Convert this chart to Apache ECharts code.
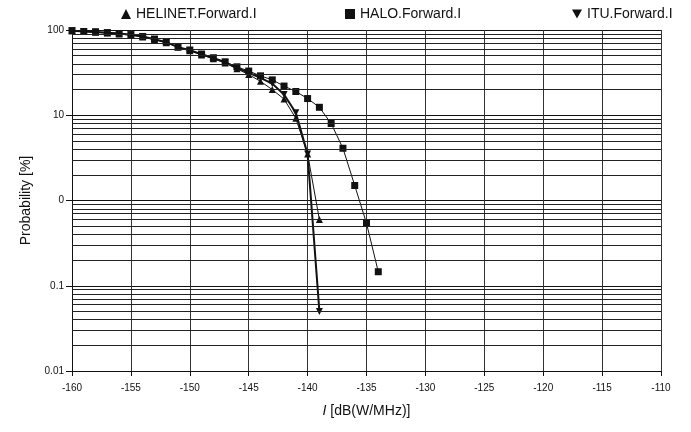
<!DOCTYPE html>
<html>
<head>
<meta charset="utf-8">
<script src="https://cdn.jsdelivr.net/npm/echarts@6/dist/echarts.min.js"></script>
<style>
  html, body { margin: 0; padding: 0; background: #fff; }
  #chart { width: 691px; height: 432px; }
</style>
</head>
<body>
<div id="chart"></div>
<script>
// interference level, dB(W/MHz)
var xHalo = [-160, -159, -158, -157, -156, -155, -154, -153, -152, -151, -150, -149, -148, -147,
             -146, -145, -144, -143, -142, -141, -140, -139, -138, -137, -136, -135, -134];
var xShort = [-160, -159, -158, -157, -156, -155, -154, -153, -152, -151, -150, -149, -148, -147,
              -146, -145, -144, -143, -142, -141, -140, -139];

// probability, %
var haloValues = [98, 96, 95, 93, 91, 88, 84, 78, 72, 63, 58, 52, 47, 42,
                  37, 33, 29, 26, 22, 19, 15.7, 12.4, 8, 4.1, 1.5, 0.54, 0.146];
var helinetValues = [98, 96, 94, 92, 90, 87, 83, 77, 71, 63, 57, 51, 46, 41,
                     35, 30, 25, 20, 15.5, 9.2, 3.5, 0.6];
var ituValues = [98, 96, 95, 93, 91, 88, 84, 78, 72, 63, 58, 52, 47, 42,
                 36, 31.5, 27.5, 23.5, 17.5, 10.7, 3.5, 0.05];

var seriesNames = ['HELINET.Forward.I', 'HALO.Forward.I', 'ITU.Forward.I'];
var yTickValues = [0.01, 0.1, 1, 10, 100];
var yTickLabels = ['0.01', '0.1', '0', '10', '100'];

var font = 'Liberation Sans';
var downTriangle = 'path://M0,0 L10,0 L5,9 Z';

function pairs(xs, ys) {
    var out = [];
    for (var i = 0; i < ys.length; i++) out.push([xs[i], ys[i]]);
    return out;
}

// log grid lines between the decades (2..9 of each decade)
var minorLines = [];
for (var d = 0.01; d < 100; d *= 10) {
    for (var m = 2; m <= 9; m++) {
        minorLines.push({ yAxis: +(d * m).toPrecision(3) });
    }
}

function legendAt(left, name, icon) {
    return {
        top: 2,
        left: left,
        itemWidth: 10,
        itemHeight: 10,
        itemGap: 0,
        textStyle: { fontFamily: font, fontSize: 14, color: '#111' },
        data: [{ name: name, icon: icon }]
    };
}

var chart = echarts.init(document.getElementById('chart'));

var option = {
    animation: false,
    backgroundColor: '#fff',
    textStyle: { fontFamily: font },
    legend: [
        legendAt(116, seriesNames[0], 'triangle'),
        legendAt(340, seriesNames[1], 'rect'),
        legendAt(567, seriesNames[2], downTriangle)
    ],
    grid: {
        left: 72,
        right: 30,
        top: 30,
        bottom: 61
    },
    xAxis: {
        type: 'value',
        min: -160,
        max: -110,
        interval: 5,
        name: '{i|I} [dB(W/MHz)]',
        nameLocation: 'middle',
        nameGap: 33,
        nameTextStyle: {
            fontFamily: font,
            fontSize: 14,
            color: '#111',
            rich: { i: { fontStyle: 'italic', fontFamily: font, fontSize: 14, color: '#111' } }
        },
        axisLine: { lineStyle: { color: '#111', width: 1 } },
        axisTick: { show: true, length: 5, lineStyle: { color: '#111' } },
        axisLabel: { fontFamily: font, fontSize: 10, color: '#111', margin: 12 },
        splitLine: { show: true, lineStyle: { color: '#333', width: 1 } }
    },
    yAxis: {
        type: 'log',
        logBase: 10,
        min: 0.01,
        max: 100,
        name: 'Probability [%]',
        nameLocation: 'middle',
        nameGap: 36,
        nameTextStyle: { fontFamily: font, fontSize: 14, color: '#111' },
        axisLine: { show: true, lineStyle: { color: '#111', width: 1 } },
        axisTick: { show: true, length: 6, lineStyle: { color: '#111' } },
        axisLabel: {
            fontFamily: font,
            fontSize: 10,
            color: '#111',
            margin: 8,
            formatter: function (v) {
                var k = yTickValues.indexOf(+v.toPrecision(3));
                return k >= 0 ? yTickLabels[k] : '';
            }
        },
        splitLine: { show: true, lineStyle: { color: '#111', width: 1 } }
    },
    series: [
        {
            name: 'grid',
            type: 'line',
            data: [],
            silent: true,
            markLine: {
                silent: true,
                symbol: 'none',
                label: { show: false },
                lineStyle: { color: '#222', width: 1, type: 'solid' },
                data: minorLines
            }
        },
        {
            name: seriesNames[0],
            type: 'line',
            data: pairs(xShort, helinetValues),
            symbol: 'triangle',
            symbolSize: 7,
            itemStyle: { color: '#111' },
            lineStyle: { color: '#111', width: 1 },
            z: 3
        },
        {
            name: seriesNames[1],
            type: 'line',
            data: pairs(xHalo, haloValues),
            symbol: 'rect',
            symbolSize: 7,
            itemStyle: { color: '#111' },
            lineStyle: { color: '#111', width: 1 },
            z: 4
        },
        {
            name: seriesNames[2],
            type: 'line',
            data: pairs(xShort, ituValues),
            symbol: downTriangle,
            symbolSize: 7,
            itemStyle: { color: '#111' },
            lineStyle: { color: '#111', width: 2 },
            z: 3
        }
    ]
};

chart.setOption(option);
</script>
</body>
</html>
